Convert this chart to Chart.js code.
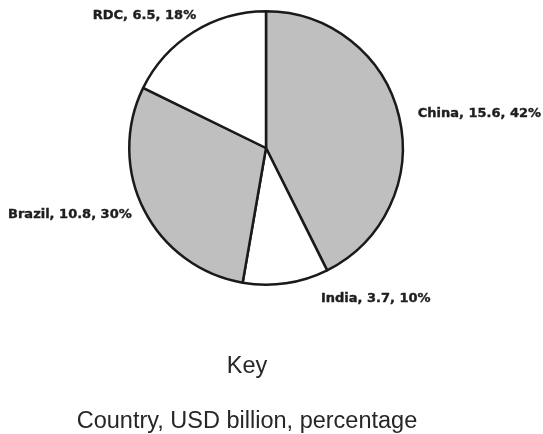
<!DOCTYPE html>
<html>
<head>
<meta charset="utf-8">
<script src="https://cdn.jsdelivr.net/npm/chart.js@4/dist/chart.umd.min.js"></script>
<style>
  html, body { margin: 0; padding: 0; background: #ffffff; }
  #wrap { position: relative; width: 543px; height: 434px; }
</style>
</head>
<body>
<div id="wrap"><canvas id="c" width="543" height="434"></canvas></div>
<script>
// Production by country
const countries = ['China', 'India', 'Brazil', 'RDC'];
const usdBillion = [15.6, 3.7, 10.8, 6.5];
const percentages = [42, 10, 30, 18];
const sliceColors = ['#c0bfbf', '#ffffff', '#c0bfbf', '#ffffff'];

const keyTitle = 'Key';
const keyText = 'Country, USD billion, percentage';

// small per-label nudges (px) applied after anchoring each label outside its slice
const labelNudgeX = [5, 33, 0, 10];
const labelNudgeY = [0, 1, -2, -4];

const sliceLabels = {
  id: 'sliceLabels',
  afterDatasetsDraw(chart) {
    const ctx = chart.ctx;
    const meta = chart.getDatasetMeta(0);
    ctx.save();
    ctx.font = 'bold 13px "DejaVu Sans", sans-serif';
    ctx.fillStyle = '#1e1e1e';
    ctx.strokeStyle = '#1e1e1e';
    ctx.lineWidth = 0.4;
    ctx.textBaseline = 'middle';
    meta.data.forEach((arc, i) => {
      const p = arc.getProps(['x', 'y', 'startAngle', 'endAngle', 'outerRadius'], true);
      const mid = (p.startAngle + p.endAngle) / 2;
      const r = p.outerRadius + 14;
      const x = p.x + Math.cos(mid) * r + labelNudgeX[i];
      const y = p.y + Math.sin(mid) * r + labelNudgeY[i];
      ctx.textAlign = Math.cos(mid) >= 0 ? 'left' : 'right';
      const txt = countries[i] + ', ' + usdBillion[i] + ', ' + percentages[i] + '%';
      ctx.fillText(txt, x, y);
      ctx.strokeText(txt, x, y);
    });
    ctx.restore();
  },
  afterDraw(chart) {
    const ctx = chart.ctx;
    ctx.save();
    ctx.fillStyle = '#262626';
    ctx.textAlign = 'center';
    ctx.textBaseline = 'alphabetic';
    ctx.font = '23.5px "Liberation Sans", Arial, sans-serif';
    ctx.fillText(keyTitle, 247, 373);
    ctx.fillText(keyText, 247, 428);
    ctx.restore();
  }
};

new Chart(document.getElementById('c'), {
  type: 'pie',
  data: {
    labels: countries,
    datasets: [{
      data: usdBillion,
      backgroundColor: sliceColors,
      borderColor: '#1a1a1a',
      borderWidth: 2.5,
      borderAlign: 'center'
    }]
  },
  options: {
    responsive: false,
    animation: false,
    events: [],
    layout: { padding: { top: 10, bottom: 148, left: 0, right: 11 } },
    plugins: {
      legend: { display: false },
      tooltip: { enabled: false },
      title: { display: false }
    }
  },
  plugins: [sliceLabels]
});
</script>
</body>
</html>
